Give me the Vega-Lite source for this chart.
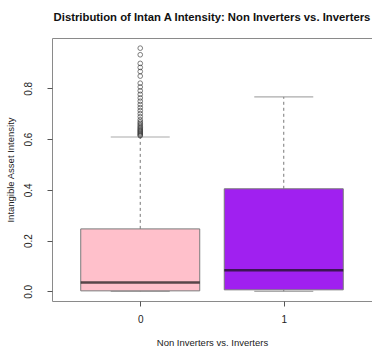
{
  "$schema": "https://vega.github.io/schema/vega-lite/v6.json",
  "width": 320,
  "height": 263,
  "autosize": {"type": "none"},
  "padding": {"left": 52, "top": 38, "right": 0, "bottom": 47},
  "background": "white",
  "config": {
    "font": "Liberation Sans",
    "view": {"stroke": "#8a8a8a", "strokeWidth": 1},
    "axis": {"grid": false, "domain": false, "tickColor": "#555", "tickSize": 5, "labelColor": "#222", "titleColor": "#222", "labelFont": "Liberation Sans", "titleFont": "Liberation Sans", "titleFontWeight": "normal"}
  },
  "title": {
    "text": "Distribution of Intan A Intensity: Non Inverters vs. Inverters",
    "font": "Liberation Sans",
    "fontSize": 11.3,
    "fontWeight": "bold",
    "color": "#111",
    "anchor": "middle",
    "frame": "group",
    "baseline": "alphabetic",
    "offset": 6
  },
  "datasets": {
    "boxes": [
      {"group": 0, "lower": 0.0, "q1": 0.002, "median": 0.035, "q3": 0.246, "upper": 0.608},
      {"group": 1, "lower": 0.0, "q1": 0.006, "median": 0.083, "q3": 0.404, "upper": 0.766}
    ],
    "outliers": [
      {"group": 0, "value": 0.958}, {"group": 0, "value": 0.932}, {"group": 0, "value": 0.898},
      {"group": 0, "value": 0.882}, {"group": 0, "value": 0.866}, {"group": 0, "value": 0.848},
      {"group": 0, "value": 0.820}, {"group": 0, "value": 0.805}, {"group": 0, "value": 0.790},
      {"group": 0, "value": 0.776}, {"group": 0, "value": 0.762}, {"group": 0, "value": 0.749},
      {"group": 0, "value": 0.736}, {"group": 0, "value": 0.724}, {"group": 0, "value": 0.712},
      {"group": 0, "value": 0.700}, {"group": 0, "value": 0.688}, {"group": 0, "value": 0.676},
      {"group": 0, "value": 0.668}, {"group": 0, "value": 0.662}, {"group": 0, "value": 0.656},
      {"group": 0, "value": 0.650}, {"group": 0, "value": 0.645}, {"group": 0, "value": 0.640},
      {"group": 0, "value": 0.636}, {"group": 0, "value": 0.632}, {"group": 0, "value": 0.628},
      {"group": 0, "value": 0.624}, {"group": 0, "value": 0.620}, {"group": 0, "value": 0.616},
      {"group": 0, "value": 0.613}
    ]
  },
  "layer": [
    {
      "data": {"name": "boxes"},
      "mark": {"type": "rule", "color": "#777", "strokeWidth": 1, "strokeDash": [3, 3]},
      "encoding": {
        "x": {
          "field": "group", "type": "quantitative",
          "scale": {"domain": [-0.58, 1.58], "nice": false, "zero": false},
          "axis": {"values": [0, 1], "format": "d", "title": "Non Inverters vs. Inverters", "labelFontSize": 10, "titleFontSize": 9.5, "labelPadding": 8, "titlePadding": 13}
        },
        "y": {
          "field": "q3", "type": "quantitative",
          "scale": {"domain": [-0.038, 0.998], "nice": false, "zero": false},
          "axis": {"values": [0, 0.2, 0.4, 0.6, 0.8], "format": ".1f", "labelAngle": -90, "labelAlign": "center", "labelBaseline": "bottom", "labelPadding": 14, "labelFontSize": 10, "title": "Intangible Asset Intensity", "titleFontSize": 9.5, "titlePadding": 8}
        },
        "y2": {"field": "upper"}
      }
    },
    {
      "data": {"name": "boxes"},
      "mark": {"type": "rule", "color": "#777", "strokeWidth": 1, "strokeDash": [3, 3]},
      "encoding": {
        "x": {"field": "group", "type": "quantitative"},
        "y": {"field": "lower", "type": "quantitative"},
        "y2": {"field": "q1"}
      }
    },
    {
      "data": {"name": "boxes"},
      "mark": {"type": "tick", "orient": "horizontal", "color": "#888", "size": 59, "thickness": 1.2},
      "encoding": {
        "x": {"field": "group", "type": "quantitative"},
        "y": {"field": "upper", "type": "quantitative"}
      }
    },
    {
      "data": {"name": "boxes"},
      "mark": {"type": "tick", "orient": "horizontal", "color": "#888", "size": 59, "thickness": 1.2},
      "encoding": {
        "x": {"field": "group", "type": "quantitative"},
        "y": {"field": "lower", "type": "quantitative"}
      }
    },
    {
      "data": {"name": "boxes"},
      "mark": {"type": "bar", "size": 119, "stroke": "#7a7a7a", "strokeWidth": 1},
      "encoding": {
        "x": {"field": "group", "type": "quantitative"},
        "y": {"field": "q1", "type": "quantitative"},
        "y2": {"field": "q3"},
        "fill": {"field": "group", "type": "nominal", "scale": {"domain": [0, 1], "range": ["#FFC0CB", "#A020F0"]}, "legend": null}
      }
    },
    {
      "data": {"name": "boxes"},
      "mark": {"type": "tick", "orient": "horizontal", "color": "#111", "size": 119, "thickness": 2.5},
      "encoding": {
        "x": {"field": "group", "type": "quantitative"},
        "y": {"field": "median", "type": "quantitative"}
      }
    },
    {
      "data": {"name": "outliers"},
      "mark": {"type": "point", "shape": "circle", "filled": false, "size": 22, "stroke": "#333", "strokeWidth": 0.9},
      "encoding": {
        "x": {"field": "group", "type": "quantitative"},
        "y": {"field": "value", "type": "quantitative"}
      }
    }
  ]
}
